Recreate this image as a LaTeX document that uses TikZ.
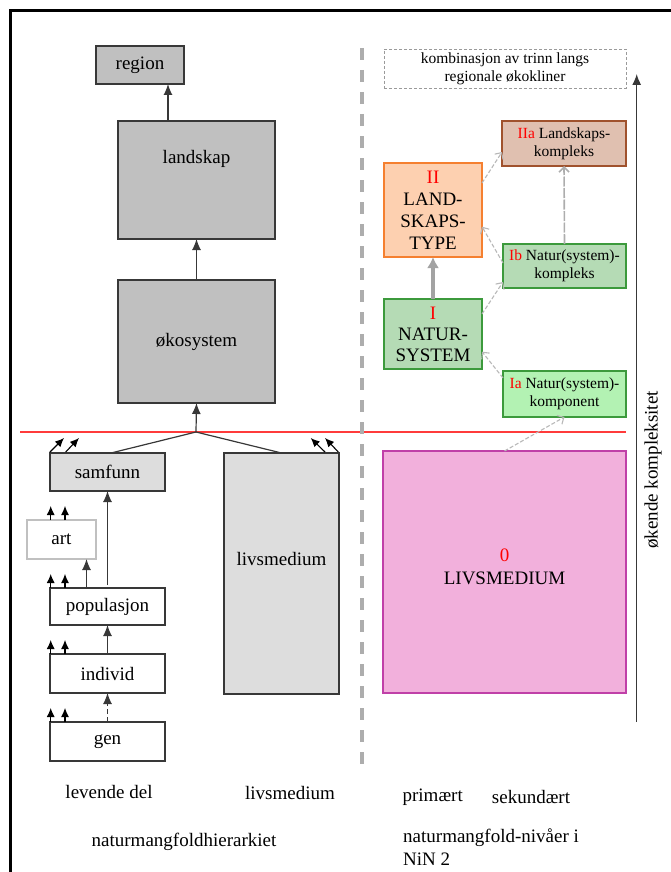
\documentclass[tikz,border=0pt]{standalone}
\usepackage{fontspec}
\setmainfont{Liberation Serif}
\usetikzlibrary{arrows.meta}
\definecolor{boxgray}{HTML}{C0C0C0}
\definecolor{lightgray2}{HTML}{DDDDDD}
\definecolor{edgegray}{HTML}{383838}
\definecolor{redline}{HTML}{FF3B3B}
\definecolor{peach}{HTML}{FDD0B0}
\definecolor{orangeb}{HTML}{F58030}
\definecolor{brownf}{HTML}{E0C0B0}
\definecolor{brownb}{HTML}{A0522D}
\definecolor{greenf}{HTML}{B5DBB5}
\definecolor{greenb}{HTML}{3C9A3C}
\definecolor{lgreenf}{HTML}{B3F2B3}
\definecolor{pinkf}{HTML}{F2B0DC}
\definecolor{pinkb}{HTML}{C040A8}
\definecolor{dashgray}{HTML}{B8B8B8}
\begin{document}
\begin{tikzpicture}[x=1pt,y=-1pt,
  big/.style={font=\fontsize{19}{22}\selectfont},
  small/.style={font=\fontsize{15.5}{18}\selectfont},
  box/.style={draw=edgegray, line width=1.2pt, inner sep=0pt, outer sep=0pt, rectangle, big},
  rbox/.style={line width=1.2pt, inner sep=0pt, outer sep=0pt, rectangle, align=center},
  arr/.style={draw=edgegray, line width=1.2pt, -{Latex[length=11pt,width=9pt]}},
  tinyarr/.style={draw=black, line width=1.1pt, -{Latex[length=9pt,width=8pt]}},
  garr/.style={draw=dashgray, line width=1.1pt, dash pattern=on 4pt off 2pt, -{Straight Barb[length=5pt,width=10pt]}},
  lbl/.style={inner sep=0pt, big}
]
\useasboundingbox (0,0) rectangle (671,872);
% outer frame (partly visible)
\draw[line width=3pt] (10,872) -- (10,11) -- (671,11);

% ---------- left hierarchy ----------
\node[box, fill=boxgray, minimum width=88pt, minimum height=38pt] (region) at (140,65) {region};
\node[box, fill=boxgray, minimum width=157pt, minimum height=118pt] (landskap) at (196.5,180) {};
\node[lbl] (landskapT) at (196.5,159) {landskap};
\node[box, fill=boxgray, minimum width=157pt, minimum height=123pt] (oko) at (196.5,341.5) {økosystem};

\node[box, fill=lightgray2, minimum width=115pt, minimum height=38pt] (samfunn) at (107.5,472) {samfunn};
\node[box, fill=lightgray2, minimum width=115pt, minimum height=241pt] (livs) at (281.5,573.5) {};
\node[lbl] (livsT) at (281.5,559) {livsmedium};
\node[box, draw=boxgray, fill=white, minimum width=69pt, minimum height=39pt] (art) at (61.5,539.5) {art};
\node[box, fill=white, minimum width=115pt, minimum height=37pt] (pop) at (107.5,606.5) {populasjon};
\node[box, fill=white, minimum width=115pt, minimum height=39pt] (indiv) at (107.5,673.5) {individ};
\node[box, fill=white, minimum width=115pt, minimum height=39pt] (gen) at (107.5,741.5) {gen};

\coordinate (J) at (196,432);
% red line
\coordinate (redL) at (20,432);
\coordinate (redR) at (626,432);
\draw[redline, line width=1.3pt] (redL) -- (redR);

\draw[arr] ([xshift=50pt]landskap.north west) coordinate (lr) -- (lr |- region.south);
\draw[arr] (oko.north) -- (landskap.south);
\draw[arr] (J) -- (oko.south);
\draw[edgegray, line width=1.2pt] (J) -- ([xshift=61pt]samfunn.north west);
\draw[edgegray, line width=1.2pt] (J) -- (livs.north);
\draw[arr] ([yshift=3pt]pop.north) -- (samfunn.south);
\draw[arr] ([xshift=-21pt]pop.north) coordinate (pa) -- (pa |- art.south);
\draw[arr] (indiv.north) -- (pop.south);
\draw[arr, dash pattern=on 5pt off 3pt] (gen.north) -- (indiv.south);

% small arrows
\foreach \n/\a/\b in {art/23.7/38, pop/0.7/15, indiv/0.7/15, gen/0.7/15}{
  \draw[tinyarr] ([xshift=\a pt]\n.north west) -- ++(0,-14);
  \draw[tinyarr] ([xshift=\b pt]\n.north west) -- ++(0,-14);
}
\draw[tinyarr] ([yshift=1pt]samfunn.north west) -- ++(14,-14);
\draw[tinyarr] ([xshift=15.7pt,yshift=1pt]samfunn.north west) -- ++(13.3,-14);
\draw[tinyarr] ([xshift=-14pt,yshift=1pt]livs.north east) -- ++(-14.3,-14);
\draw[tinyarr] ([xshift=-0.7pt,yshift=1pt]livs.north east) -- ++(-13.3,-14);

% separator
\coordinate (sepT) at (362,48);
\coordinate (sepB) at (362,766);
\draw[boxgray!90!black, line width=3.5pt, dash pattern=on 12pt off 10pt] (sepT) -- (sepB);

% ---------- right side ----------
\node[rbox, draw=boxgray!80!black, line width=0.8pt, dash pattern=on 3pt off 2pt, minimum width=242pt, minimum height=39pt, font=\fontsize{15.5}{18}\selectfont] (komb) at (505,68.5) {kombinasjon av trinn langs\\regionale økokliner};

\node[rbox, draw=brownb, fill=brownf, minimum width=124pt, minimum height=45pt, small] (IIa) at (564,143.5) {\textcolor{red}{IIa} Landskaps-\\kompleks};
\node[rbox, draw=orangeb, fill=peach, minimum width=98pt, minimum height=94pt, big] (II) at (433,210) {\textcolor{red}{II}\\LAND-\\SKAPS-\\TYPE};
\node[rbox, draw=greenb, fill=greenf, minimum width=123pt, minimum height=44pt, small] (Ib) at (564.5,266) {\textcolor{red}{Ib} Natur(system)-\\kompleks};
\node[rbox, draw=greenb, fill=greenf, minimum width=98pt, minimum height=70pt, font=\fontsize{19}{21}\selectfont] (I) at (433,334) {\textcolor{red}{I}\\NATUR-\\SYSTEM};
\node[rbox, draw=greenb, fill=lgreenf, minimum width=123pt, minimum height=46pt, small] (Ia) at (564.5,394) {\textcolor{red}{Ia} Natur(system)-\\komponent};
\node[rbox, draw=pinkb, fill=pinkf, minimum width=243pt, minimum height=242pt] (LIV) at (504.5,572) {};
\node[lbl, align=center, font=\fontsize{19}{23}\selectfont] (LIVT) at (504.5,567) {\textcolor{red}{0}\\LIVSMEDIUM};

\draw[draw=boxgray!85!black, line width=4.5pt, -{Latex[length=11pt,width=12pt]}] (I.north) -- (II.south);
\draw[garr] ([yshift=27pt]II.east) -- ([yshift=14pt]IIa.south west);
\draw[garr] ([yshift=3pt]Ib.west) -- ([yshift=-16.7pt]II.east);
\draw[garr] ([yshift=20pt]I.east) -- ([yshift=6pt]Ib.south west);
\draw[garr] ([yshift=16pt]Ia.west) -- ([yshift=-17.7pt]I.east);
\draw[garr] (LIV.north) -- (Ia.south);
\draw[garr, draw=boxgray!90!black, line width=1.6pt, dash pattern=on 10pt off 1.5pt] (Ib.north) -- (IIa.south);

% complexity axis
\coordinate (axB) at (636.7,722);
\coordinate (axT) at (636.7,74);
\draw[line width=1.3pt, draw=edgegray, -{Latex[length=11pt,width=9pt]}] (axB) -- (axT);
\node[lbl, rotate=90] (axlbl) at (653,470) {økende kompleksitet};

% ---------- bottom labels ----------
\node[lbl] (levende) at (109,792) {levende del};
\node[lbl] (livsB) at (290,793) {livsmedium};
\node[lbl] (nmh) at (184,842) {naturmangfoldhierarkiet};
\node[lbl] (prim) at (432.7,797) {primært};
\node[lbl] (sek) at (531,797) {sekundært};
\node[lbl, anchor=west, align=left, font=\fontsize{19}{23}\selectfont] (nin) at (403,847) {naturmangfold-nivåer i\\NiN 2};
\end{tikzpicture}
\end{document}
